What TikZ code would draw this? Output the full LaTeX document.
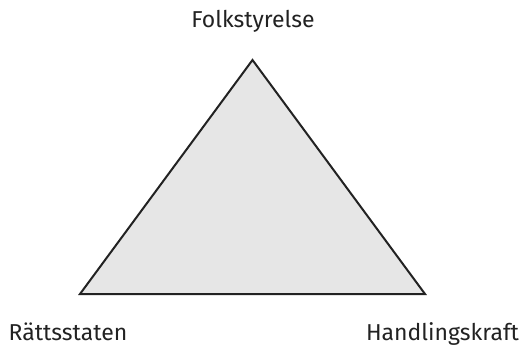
\documentclass[tikz,border=0pt]{standalone}
\usepackage{fontspec}
\setmainfont{Fira Sans}
\definecolor{tri}{HTML}{E6E6E6}
\definecolor{ink}{HTML}{222222}
\begin{document}
\begin{tikzpicture}[x=1pt,y=1pt,
  lbl/.style={font=\fontsize{23}{27}\selectfont\color{ink}, inner sep=0pt, anchor=base},
  tribox/.style={fill=tri, draw=ink, line width=2pt, line join=miter}]
\useasboundingbox (0,0) rectangle (523,349);
\coordinate (top) at (252.5,289);
\coordinate (bl) at (80,55);
\coordinate (br) at (425,55);
\draw[tribox] (top) -- (bl) -- (br) -- cycle;
\node[lbl] (f) at (253,321) {Folkstyrelse};
\node[lbl] (r) at (68,9) {Rättsstaten};
\node[lbl] (h) at (442.5,9) {Handlingskraft};
\end{tikzpicture}
\end{document}
